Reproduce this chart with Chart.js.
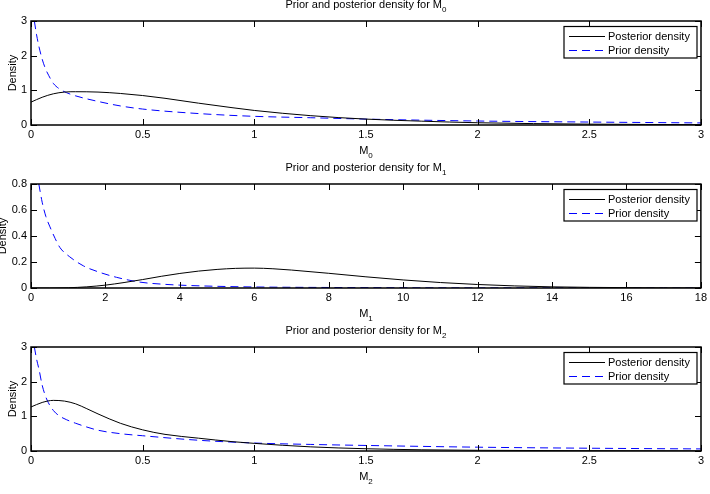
<!DOCTYPE html>
<html>
<head>
<meta charset="utf-8">
<script src="https://cdn.jsdelivr.net/npm/chart.js@4.4.1/dist/chart.umd.min.js"></script>
<style>
  body { margin: 0; background: #fff; }
  .panel { position: absolute; left: 0; width: 710px; }
  canvas { display: block; }
</style>
</head>
<body>
<div class="panel" style="top:0px"><canvas id="m0" width="710" height="163"></canvas></div>
<div class="panel" style="top:163px"><canvas id="m1" width="710" height="163"></canvas></div>
<div class="panel" style="top:326px"><canvas id="m2" width="710" height="168"></canvas></div>
<script>
// M0 panel
const m0PostX = [0, 0.05, 0.1, 0.15, 0.2, 0.3, 0.4, 0.5, 0.6, 0.75, 0.9, 1, 1.25, 1.5, 1.75, 2, 2.5, 3];
const m0PostY = [0.66, 0.8, 0.9, 0.95, 0.96, 0.95, 0.91, 0.85, 0.77, 0.63, 0.5, 0.42, 0.27, 0.17, 0.11, 0.065, 0.025, 0.01];
const m0PriorX = [0.015, 0.025, 0.036, 0.05, 0.065, 0.08, 0.1, 0.13, 0.16, 0.2, 0.3, 0.4, 0.5, 0.75, 1, 1.25, 1.5, 2, 2.5, 3];
const m0PriorY = [3.0, 2.6, 2.25, 1.9, 1.62, 1.42, 1.2, 1.03, 0.93, 0.84, 0.68, 0.55, 0.46, 0.33, 0.25, 0.21, 0.17, 0.115, 0.085, 0.06];

// M1 panel
const m1PostX = [0, 0.5, 1, 1.5, 2, 2.5, 3, 3.5, 4, 4.5, 5, 5.5, 6, 6.5, 7, 8, 9, 10, 11, 12, 13, 14, 15, 16, 17, 18];
const m1PostY = [0, 0, 0.002, 0.009, 0.022, 0.042, 0.065, 0.09, 0.112, 0.13, 0.143, 0.151, 0.153, 0.148, 0.138, 0.113, 0.086, 0.062, 0.042, 0.027, 0.016, 0.009, 0.005, 0.003, 0.001, 0.001];
const m1PriorX = [0.21, 0.3, 0.4, 0.51, 0.65, 0.78, 1.04, 1.41, 1.85, 2.3, 2.93, 3.5, 4, 5, 6, 8, 10, 12, 14, 16, 18];
const m1PriorY = [0.8, 0.66, 0.55, 0.47, 0.38, 0.31, 0.24, 0.17, 0.12, 0.082, 0.045, 0.03, 0.022, 0.013, 0.008, 0.004, 0.002, 0.001, 0.001, 0, 0];

// M2 panel
const m2PostX = [0, 0.05, 0.1, 0.15, 0.2, 0.25, 0.3, 0.4, 0.5, 0.6, 0.75, 0.9, 1, 1.25, 1.5, 1.75, 2, 2.5, 3];
const m2PostY = [1.27, 1.4, 1.46, 1.44, 1.36, 1.22, 1.07, 0.8, 0.61, 0.48, 0.37, 0.27, 0.22, 0.12, 0.065, 0.035, 0.02, 0.008, 0.003];
const m2PriorX = [0.015, 0.025, 0.036, 0.05, 0.07, 0.1, 0.13, 0.16, 0.2, 0.3, 0.4, 0.5, 0.75, 1, 1.25, 1.5, 2, 2.5, 3];
const m2PriorY = [3.0, 2.65, 2.35, 1.9, 1.5, 1.17, 1.0, 0.9, 0.8, 0.6, 0.5, 0.44, 0.31, 0.23, 0.19, 0.16, 0.11, 0.08, 0.06];

const seriesLabels = ['Posterior density', 'Prior density'];
const POST_COLOR = '#000000';
const PRIOR_COLOR = '#0000ff';
const PRIOR_DASH = [8, 5];
const FONT = '"Liberation Sans", Arial, Helvetica, sans-serif';
const TICK = 6;

Chart.defaults.font.family = FONT;
Chart.defaults.font.size = 11;
Chart.defaults.color = '#000';

const toPoints = (xs, ys) => xs.map((x, i) => ({ x, y: ys[i] }));
const fmtTick = (v) => String(Number(v.toFixed(4)));

// main text followed by a lowered subscript, centred on cx
function drawSubText(ctx, main, sub, cx, baseline) {
  ctx.font = '11px ' + FONT;
  const w1 = ctx.measureText(main).width;
  ctx.font = '8px ' + FONT;
  const w2 = ctx.measureText(sub).width;
  const x0 = cx - (w1 + w2) / 2;
  ctx.textAlign = 'left';
  ctx.textBaseline = 'alphabetic';
  ctx.font = '11px ' + FONT;
  ctx.fillText(main, x0, baseline);
  ctx.font = '8px ' + FONT;
  ctx.fillText(sub, x0 + w1, baseline + 4);
}

const legendItems = [
  { label: seriesLabels[0], color: POST_COLOR, dash: [] },
  { label: seriesLabels[1], color: PRIOR_COLOR, dash: PRIOR_DASH },
];

const matlabAxes = {
  id: 'matlabAxes',
  afterDraw(chart, args, opts) {
    const { ctx, chartArea: a } = chart;
    const xs = chart.scales.x, ys = chart.scales.y;
    ctx.save();
    ctx.fillStyle = '#000';
    ctx.strokeStyle = '#000';

    // inward ticks on all four sides
    ctx.lineWidth = 1;
    ctx.beginPath();
    xs.ticks.forEach((t) => {
      const px = Math.round(xs.getPixelForValue(t.value)) + 0.5;
      ctx.moveTo(px, a.bottom); ctx.lineTo(px, a.bottom - TICK);
      ctx.moveTo(px, a.top); ctx.lineTo(px, a.top + TICK);
    });
    ys.ticks.forEach((t) => {
      const py = Math.round(ys.getPixelForValue(t.value)) + 0.5;
      ctx.moveTo(a.left, py); ctx.lineTo(a.left + TICK, py);
      ctx.moveTo(a.right, py); ctx.lineTo(a.right - TICK, py);
    });
    ctx.stroke();

    // box
    ctx.lineWidth = 1.5;
    ctx.strokeRect(a.left, a.top, a.right - a.left, a.bottom - a.top);

    // legend box
    const bx = 564, bw = 133, by = a.top + 5.5, bh = 31.5;
    ctx.fillStyle = '#fff';
    ctx.fillRect(bx, by, bw, bh);
    ctx.strokeStyle = '#000';
    ctx.lineWidth = 1.2;
    ctx.strokeRect(bx, by, bw, bh);
    legendItems.forEach((item, i) => {
      const ry = Math.round(a.top + 14.5 + i * 14.5) + 0.5;
      ctx.strokeStyle = item.color;
      ctx.lineWidth = 1;
      ctx.setLineDash(item.dash);
      ctx.beginPath();
      ctx.moveTo(569, ry); ctx.lineTo(605, ry);
      ctx.stroke();
      ctx.setLineDash([]);
      ctx.fillStyle = '#000';
      ctx.font = '11px ' + FONT;
      ctx.textAlign = 'left';
      ctx.textBaseline = 'middle';
      ctx.fillText(item.label, 608, ry);
    });

    // title and axis labels
    ctx.fillStyle = '#000';
    const cx = (a.left + a.right) / 2;
    drawSubText(ctx, opts.title[0], opts.title[1], cx, a.top - 13.5);
    drawSubText(ctx, opts.xlabel[0], opts.xlabel[1], cx, a.bottom + 28.5);

    ctx.save();
    ctx.translate(opts.ylabelX, (a.top + a.bottom) / 2);
    ctx.rotate(-Math.PI / 2);
    ctx.font = '11px ' + FONT;
    ctx.textAlign = 'center';
    ctx.textBaseline = 'alphabetic';
    ctx.fillText('Density', 0, 0);
    ctx.restore();

    ctx.restore();
  },
};

function makePanel(id, cfg) {
  const canvas = document.getElementById(id);
  return new Chart(canvas, {
    type: 'line',
    data: {
      datasets: [
        {
          label: seriesLabels[0],
          data: toPoints(cfg.postX, cfg.postY),
          borderColor: POST_COLOR,
          borderWidth: 1,
          pointRadius: 0,
          cubicInterpolationMode: 'monotone',
        },
        {
          label: seriesLabels[1],
          data: toPoints(cfg.priorX, cfg.priorY),
          borderColor: PRIOR_COLOR,
          borderWidth: 1,
          borderDash: PRIOR_DASH,
          pointRadius: 0,
          cubicInterpolationMode: 'monotone',
        },
      ],
    },
    options: {
      responsive: false,
      animation: false,
      events: [],
      layout: { padding: { top: 21, right: 9, left: 0, bottom: 0 } },
      plugins: {
        legend: { display: false },
        tooltip: { enabled: false },
        title: { display: false },
        matlabAxes: { title: cfg.title, xlabel: cfg.xlabel, ylabelX: cfg.ylabelX },
      },
      scales: {
        x: {
          type: 'linear',
          min: 0,
          max: cfg.xMax,
          grid: { display: false, drawTicks: false },
          border: { display: false },
          ticks: { stepSize: cfg.xStep, padding: 3, autoSkip: false, maxRotation: 0, callback: fmtTick },
          afterFit(scale) { scale.height = cfg.xAxisH; },
        },
        y: {
          min: 0,
          max: cfg.yMax,
          grid: { display: false, drawTicks: false },
          border: { display: false },
          ticks: { stepSize: cfg.yStep, padding: 4, callback: fmtTick },
          afterFit(scale) { scale.width = 31; },
        },
      },
    },
    plugins: [matlabAxes],
  });
}

makePanel('m0', {
  postX: m0PostX, postY: m0PostY, priorX: m0PriorX, priorY: m0PriorY,
  xMax: 3, xStep: 0.5, yMax: 3, yStep: 1, xAxisH: 38, ylabelX: 15.5,
  title: ['Prior and posterior density for M', '0'], xlabel: ['M', '0'],
});
makePanel('m1', {
  postX: m1PostX, postY: m1PostY, priorX: m1PriorX, priorY: m1PriorY,
  xMax: 18, xStep: 2, yMax: 0.8, yStep: 0.2, xAxisH: 38, ylabelX: 6,
  title: ['Prior and posterior density for M', '1'], xlabel: ['M', '1'],
});
makePanel('m2', {
  postX: m2PostX, postY: m2PostY, priorX: m2PriorX, priorY: m2PriorY,
  xMax: 3, xStep: 0.5, yMax: 3, yStep: 1, xAxisH: 43, ylabelX: 15.5,
  title: ['Prior and posterior density for M', '2'], xlabel: ['M', '2'],
});
</script>
</body>
</html>
